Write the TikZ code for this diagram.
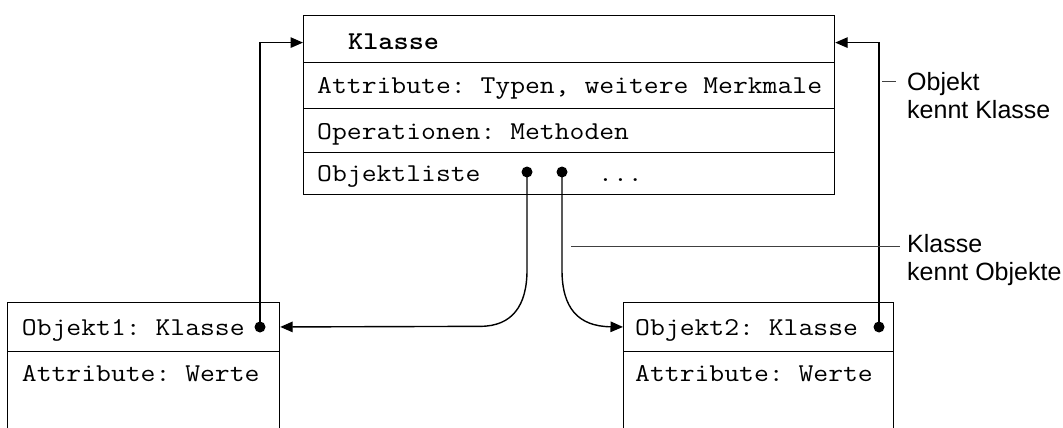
\documentclass[tikz,border=0pt]{standalone}
\usepackage{fontspec}
\usepackage{graphicx}
\setmainfont{Liberation Sans}
\setsansfont{Liberation Sans}
\usetikzlibrary{arrows.meta}

% typewriter text, widened slightly to the wider Courier-like pitch
\newcommand{\tw}[1]{\scalebox{1.122}[1]{#1}}

\tikzset{
  rowbox/.style={draw, line width=1.2pt, rectangle, inner sep=0pt, anchor=north west},
  mono/.style={font=\frenchspacing\ttfamily\fontsize{25.7pt}{30pt}\selectfont, inner sep=0pt, anchor=base west},
  monob/.style={font=\frenchspacing\ttfamily\bfseries\fontsize{25.7pt}{30pt}\selectfont, inner sep=0pt, anchor=base west},
  note/.style={font=\sffamily\fontsize{25pt}{28pt}\selectfont, inner sep=0pt, anchor=base west},
  pin/.style={circle, fill, inner sep=0pt, minimum size=11pt},
  conn/.style={line width=1.4pt},
  arr/.style={conn, -{Triangle[length=12.5pt, width=10.5pt]}},
  leader/.style={line width=0.8pt, black!75}
}

\begin{document}
\begin{tikzpicture}[x=1pt, y=-1pt]
  \clip (0,0) rectangle (1063,428);

  % class box with its four compartments
  \node[rowbox, minimum width=531pt, minimum height=47pt]   (kh) at (303,15) {};
  \node[rowbox, minimum width=531pt, minimum height=46pt]   (ka) at (303,62) {};
  \node[rowbox, minimum width=531pt, minimum height=43.5pt] (ko) at (303,108) {};
  \node[rowbox, minimum width=531pt, minimum height=42pt]   (kl) at (303,151.5) {};

  \node[monob] (tkh) at (348,49)    {\tw{Klasse}};
  \node[mono]  (tka) at (317,93)    {\tw{Attribute: Typen, weitere Merkmale}};
  \node[mono]  (tko) at (317,139)   {\tw{Operationen: Methoden}};
  \node[mono]  (tkl) at (317,181.7) {\tw{Objektliste}};
  \node[mono]  (tkd) at (598,181.7) {\tw{...}};

  % object boxes (open at the bottom)
  \node[rowbox, minimum width=272pt, minimum height=48.7pt] (o1h) at (7,302) {};
  \node[rowbox, minimum width=272pt, minimum height=100pt]  (o1b) at (7,350.7) {};
  \node[rowbox, minimum width=270pt, minimum height=48.7pt] (o2h) at (623,302) {};
  \node[rowbox, minimum width=270pt, minimum height=100pt]  (o2b) at (623,350.7) {};

  \node[mono] (to1h) at (21.7,335.7) {\tw{Objekt1: Klasse}};
  \node[mono] (to1b) at (21.7,381.7) {\tw{Attribute: Werte}};
  \node[mono] (to2h) at (635,335.7)  {\tw{Objekt2: Klasse}};
  \node[mono] (to2b) at (635,381.7)  {\tw{Attribute: Werte}};

  % reference points
  \node[pin] (d1) at (260,327) {};
  \node[pin] (d2) at (879,327) {};
  \node[pin] (d3) at (527,172) {};
  \node[pin] (d4) at (562,172) {};

  % objects know their class
  \draw[arr] (d1.center) |- ([yshift=-3.5pt]kh.west);
  \draw[arr] (d2.center) |- ([yshift=-3.5pt]kh.east);

  % class knows its objects
  \draw[arr] (d3.center) -- (527,270) .. controls (527,306) and (512,326.35) .. (480,326.35) -- (o1h.east);
  \draw[arr] (d4.center) -- (562,270) .. controls (562,308) and (578,326.35) .. (o2h.west);

  % annotations
  \coordinate (n1a) at (882,81);
  \coordinate (n1b) at (896,81);
  \draw[leader] (n1a) -- (n1b);
  \node[note] (l1a) at (907,90)  {Objekt};
  \node[note] (l1b) at (907,118) {kennt Klasse};

  \coordinate (n2a) at (571,246);
  \coordinate (n2b) at (900,246);
  \draw[leader] (n2a) -- (n2b);
  \node[note] (l2a) at (907,252) {Klasse};
  \node[note] (l2b) at (907,280) {kennt Objekte};
\end{tikzpicture}
\end{document}
